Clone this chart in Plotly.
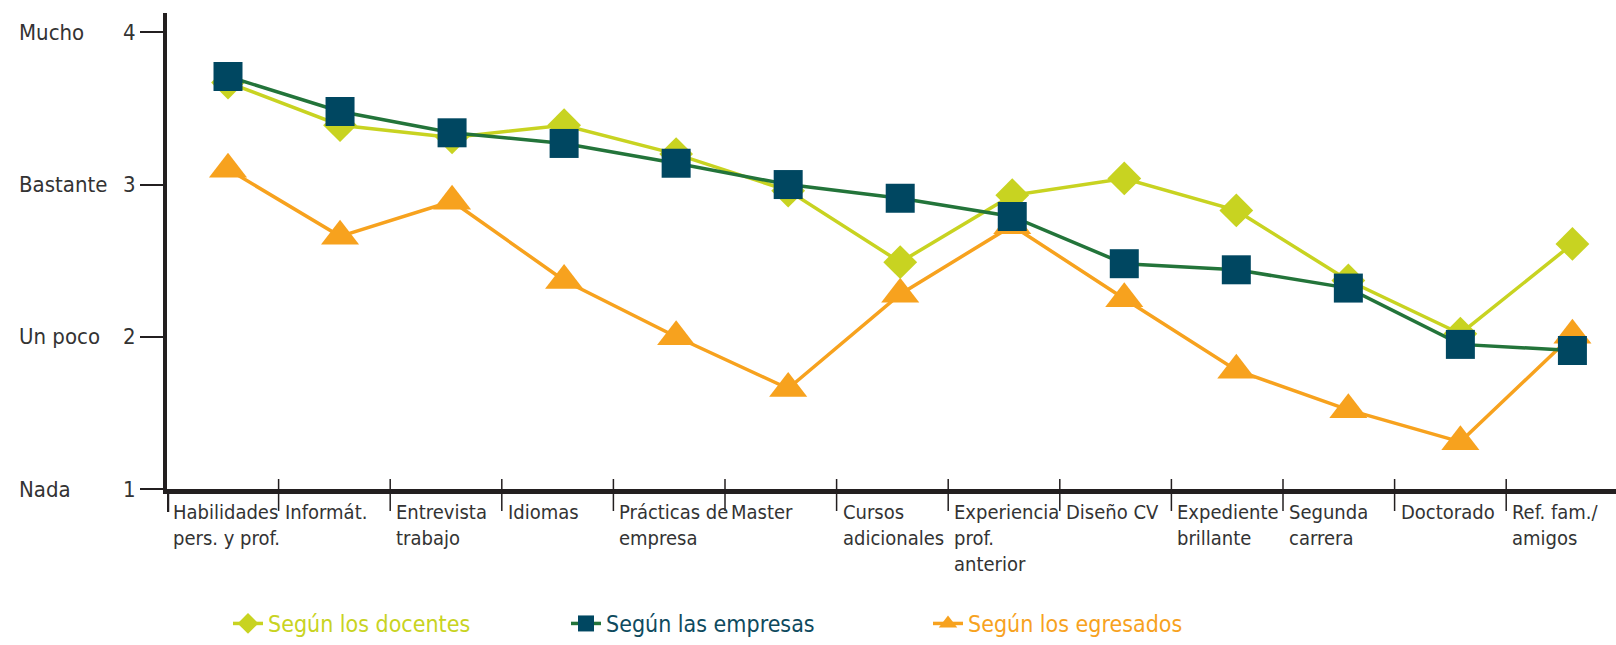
import plotly.graph_objects as go

categories = ["Habilidades<br>pers. y prof.", "Informát.", "Entrevista<br>trabajo", "Idiomas",
              "Prácticas de<br>empresa", "Master", "Cursos<br>adicionales",
              "Experiencia<br>prof.<br>anterior", "Diseño CV", "Expediente<br>brillante",
              "Segunda<br>carrera", "Doctorado", "Ref. fam./<br>amigos"]
docentes = [3.67, 3.39, 3.31, 3.39, 3.20, 2.96, 2.49, 2.93, 3.04, 2.83, 2.37, 2.02, 2.61]
empresas = [3.71, 3.48, 3.34, 3.27, 3.14, 3.00, 2.91, 2.79, 2.48, 2.44, 2.32, 1.95, 1.91]
egresados = [3.10, 2.66, 2.89, 2.37, 2.00, 1.66, 2.28, 2.73, 2.25, 1.78, 1.52, 1.31, 2.01]
level_values = [4, 3, 2, 1]
level_labels = ["Mucho", "Bastante", "Un poco", "Nada"]
series_names = ["Según los docentes", "Según las empresas", "Según los egresados"]

FONT = "DejaVu Sans Condensed, DejaVu Sans, sans-serif"
TXT = "#333333"
C_DOC = "#C8D321"
C_EMP_LINE = "#23743A"
C_EMP_MK = "#004761"
C_EMP_TXT = "#0E4A5E"
C_EGR = "#F7A21E"

W, H = 1616, 645
ML, MR, MT, MB = 167, 0, 13, 156
x = list(range(len(categories)))
X0 = -0.5445
X1 = 12.389
band = (X1 - X0) * 111.6 / (W - ML - MR)

fig = go.Figure()
fig.add_trace(go.Scatter(x=x, y=egresados, mode="lines+markers", name=series_names[2],
                         line=dict(color=C_EGR, width=3.5),
                         marker=dict(symbol="triangle-up", size=33, color=C_EGR),
                         legend="legend3"))
fig.add_trace(go.Scatter(x=x, y=docentes, mode="lines+markers", name=series_names[0],
                         line=dict(color=C_DOC, width=3.5),
                         marker=dict(symbol="diamond", size=26, color=C_DOC),
                         legend="legend"))
fig.add_trace(go.Scatter(x=x, y=empresas, mode="lines+markers", name=series_names[1],
                         line=dict(color=C_EMP_LINE, width=3.5),
                         marker=dict(symbol="square", size=29, color=C_EMP_MK),
                         legend="legend2"))

plot_h = H - MT - MB
def py(pix):
    return (H - MB - pix) / plot_h

shapes = []
for k in range(1, len(categories)):
    xd = X0 + band * k
    shapes.append(dict(type="line", xref="x", yref="paper", x0=xd, x1=xd,
                       y0=py(479), y1=py(511), line=dict(color="#231F20", width=1.5)))
shapes.append(dict(type="line", xref="x", yref="paper", x0=X0, x1=X0,
                   y0=py(489), y1=py(512), line=dict(color="#231F20", width=4.5)))

annotations = []
for k, lab in enumerate(categories):
    annotations.append(dict(x=X0 + band * k, y=py(498), xref="x", yref="paper",
                            text=lab, showarrow=False, xanchor="left", yanchor="top",
                            align="left", xshift=4,
                            font=dict(family=FONT, size=20, color=TXT)))
for v, lab in zip(level_values, level_labels):
    annotations.append(dict(x=(17 - ML) / (W - ML - MR), y=v, xref="paper", yref="y",
                            text=lab, showarrow=False, xanchor="left", yanchor="middle",
                            font=dict(family=FONT, size=22, color=TXT)))

leg_common = dict(orientation="h", yanchor="middle", xanchor="left",
                  bgcolor="rgba(0,0,0,0)", itemwidth=30)
fig.update_layout(
    width=W, height=H,
    margin=dict(l=ML, r=MR, t=MT, b=MB, pad=0),
    plot_bgcolor="white", paper_bgcolor="white",
    showlegend=True,
    legend=dict(**leg_common, x=(228 - ML) / (W - ML), y=py(624),
                font=dict(family=FONT, size=23, color=C_DOC)),
    legend2=dict(**leg_common, x=(566 - ML) / (W - ML), y=py(624),
                 font=dict(family=FONT, size=23, color=C_EMP_TXT)),
    legend3=dict(**leg_common, x=(928 - ML) / (W - ML), y=py(624),
                 font=dict(family=FONT, size=23, color=C_EGR)),
    xaxis=dict(range=[X0, X1], showline=True, linewidth=5, linecolor="#231F20",
               showgrid=False, zeroline=False, showticklabels=False, ticks=""),
    yaxis=dict(range=[1, 4.127], showline=True, linewidth=4, linecolor="#231F20",
               showgrid=False, zeroline=False, tickvals=level_values,
               ticks="outside", ticklen=23, tickwidth=1.5, tickcolor="#231F20",
               tickfont=dict(family=FONT, size=22, color=TXT)),
    shapes=shapes, annotations=annotations,
)
fig.write_html("out.html", config={"displayModeBar": False},
               post_script="document.body.style.margin='0';document.body.style.overflow='hidden';")
